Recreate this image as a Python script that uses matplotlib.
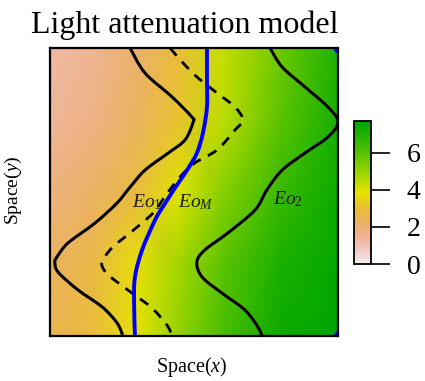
import numpy as np
import matplotlib
matplotlib.use("Agg")
import matplotlib.pyplot as plt
from matplotlib.colors import ListedColormap, hsv_to_rgb, Normalize
from matplotlib.path import Path
from matplotlib.patches import PathPatch
import matplotlib.cm as cm

plt.rcParams['font.family'] = ['Liberation Serif', 'DejaVu Serif']
plt.rcParams['mathtext.fontset'] = 'custom'
plt.rcParams['mathtext.rm'] = 'Liberation Serif'
plt.rcParams['mathtext.it'] = 'Liberation Serif:italic'

# ---- data (axes-fraction coordinates) ----
grid_x = [0.0, 0.15, 0.3, 0.45, 0.6, 0.8, 1.0]
grid_y = [0.0, 0.25, 0.5, 0.75, 1.0]
field_row_y0 = [2.5, 2.9, 3.8, 5.0, 6.2, 7.4, 7.7]
field_row_y1 = [2.3, 2.7, 3.7, 4.8, 5.9, 7.1, 7.6]
field_row_y2 = [1.8, 2.2, 2.8, 4.0, 5.2, 6.5, 7.4]
field_row_y3 = [1.4, 1.7, 2.3, 3.1, 4.4, 5.9, 7.2]
field_row_y4 = [1.25, 1.5, 2.1, 2.9, 4.3, 5.6, 7.0]

eo1_x = [0.278, 0.330, 0.424, 0.493, 0.497, 0.469, 0.410, 0.330, 0.278, 0.233,
         0.156, 0.0625, 0.024, 0.017, 0.028, 0.097, 0.181, 0.233, 0.253]
eo1_y = [1.0, 0.913, 0.830, 0.760, 0.743, 0.681, 0.635, 0.576, 0.517, 0.462,
         0.392, 0.323, 0.274, 0.257, 0.222, 0.160, 0.101, 0.045, 0.0]

eo2_x = [0.764, 0.806, 0.885, 0.965, 1.0, 0.965, 0.885, 0.806, 0.753, 0.712,
         0.618, 0.538, 0.510, 0.528, 0.597, 0.677, 0.722, 0.736]
eo2_y = [1.0, 0.934, 0.865, 0.795, 0.743, 0.691, 0.635, 0.576, 0.507, 0.4375,
         0.358, 0.299, 0.257, 0.205, 0.149, 0.090, 0.031, 0.0]

eom_x = [0.545, 0.545, 0.545, 0.531, 0.510, 0.476, 0.434, 0.396, 0.365, 0.320,
         0.295, 0.292, 0.295]
eom_y = [1.0, 0.889, 0.795, 0.705, 0.635, 0.576, 0.514, 0.455, 0.403, 0.299,
         0.205, 0.115, 0.0]
eom_corner_x = [1.0, 1.0]
eom_corner_y = [1.0, 0.0]

dash_x = [0.417, 0.462, 0.514, 0.580, 0.642, 0.670, 0.642, 0.580, 0.503, 0.451,
          0.403, 0.358, 0.278, 0.215, 0.181, 0.188, 0.215, 0.285, 0.354, 0.406, 0.424]
dash_y = [1.0, 0.948, 0.896, 0.844, 0.795, 0.750, 0.715, 0.646, 0.601, 0.552,
          0.490, 0.427, 0.358, 0.306, 0.257, 0.229, 0.201, 0.149, 0.097, 0.038, 0.0]

labels = [r'$Eo_{\mathit{1}}$', r'$Eo_{M}$', r'$Eo_{\mathit{2}}$']
label_x = [0.285, 0.444, 0.774]
label_y = [0.448, 0.448, 0.458]

cbar_ticks = [0, 2, 4, 6]
zmin, zmax = 0.0, 7.7

# ---- colormap: reversed R terrain.colors ----
n = 256
k = n // 2
h = np.concatenate([np.linspace(4/12, 2/12, k), np.linspace(2/12, 0, n - k + 1)[1:]])
s = np.concatenate([np.ones(k), np.linspace(1, 0, n - k + 1)[1:]])
v = np.concatenate([np.linspace(0.65, 0.9, k), np.linspace(0.9, 0.95, n - k + 1)[1:]])
cols = hsv_to_rgb(np.stack([h, s, v], axis=1))[::-1]
cmap = ListedColormap(cols)
norm = Normalize(zmin, zmax)


def smooth_path(xs, ys):
    """Catmull-Rom curve through the read points, as cubic Bezier path."""
    P = np.column_stack([xs, ys]).astype(float)
    Pe = np.vstack([P[0], P, P[-1]])
    verts = [P[0]]
    codes = [Path.MOVETO]
    for i in range(len(P) - 1):
        p0, p1, p2, p3 = Pe[i], Pe[i + 1], Pe[i + 2], Pe[i + 3]
        c1 = p1 + (p2 - p0) / 6.0
        c2 = p2 - (p3 - p1) / 6.0
        verts += [c1, c2, p2]
        codes += [Path.CURVE4] * 3
    return Path(verts, codes)


fig = plt.figure(figsize=(4.25, 3.81), dpi=100)
ax = fig.add_axes([50/425, 1 - 336/381, 288/425, 288/381])

Z = np.array([field_row_y0, field_row_y1, field_row_y2, field_row_y3, field_row_y4])
ax.pcolormesh(grid_x, grid_y, Z, shading='gouraud', cmap=cmap, norm=norm)

ax.add_patch(PathPatch(smooth_path(eo1_x, eo1_y), fill=False, ec='black', lw=2.2))
ax.add_patch(PathPatch(smooth_path(eo2_x, eo2_y), fill=False, ec='black', lw=2.2))
ax.add_patch(PathPatch(smooth_path(dash_x, dash_y), fill=False, ec='black', lw=2.0,
                       linestyle=(0, (3.6, 2.9))))
ax.add_patch(PathPatch(smooth_path(eom_x, eom_y), fill=False, ec='#0000FF', lw=2.8))
ax.plot(eom_corner_x, eom_corner_y, 'o', color='#0000FF', ms=6, clip_on=True)

for t, lx, ly in zip(labels, label_x, label_y):
    ax.text(lx, ly, t, fontsize=14, ha='left', va='baseline', color='#1a1a1a',
            zorder=5)

ax.set_xlim(0, 1)
ax.set_ylim(0, 1)
ax.set_xticks([])
ax.set_yticks([])
for sp in ax.spines.values():
    sp.set_linewidth(1.6)

fig.text(185/425, 1 - 33/381, 'Light attenuation model', fontsize=23,
         ha='center', va='baseline')
fig.text(192/425, 1 - 372/381, 'Space($x$)', fontsize=14.5, ha='center', va='baseline')
fig.text(13/425, 1 - 190/381, 'Space($y$)', fontsize=14, ha='center', va='center',
         rotation=90)

cax = fig.add_axes([354/425, 1 - 264/381, 17/425, 143/381])
cb = fig.colorbar(cm.ScalarMappable(norm=norm, cmap=cmap), cax=cax, ticks=cbar_ticks)
cb.outline.set_linewidth(1.3)
cax.tick_params(length=13.7, width=1.2, pad=12, labelsize=20)

fig.savefig('out.png', dpi=100)
